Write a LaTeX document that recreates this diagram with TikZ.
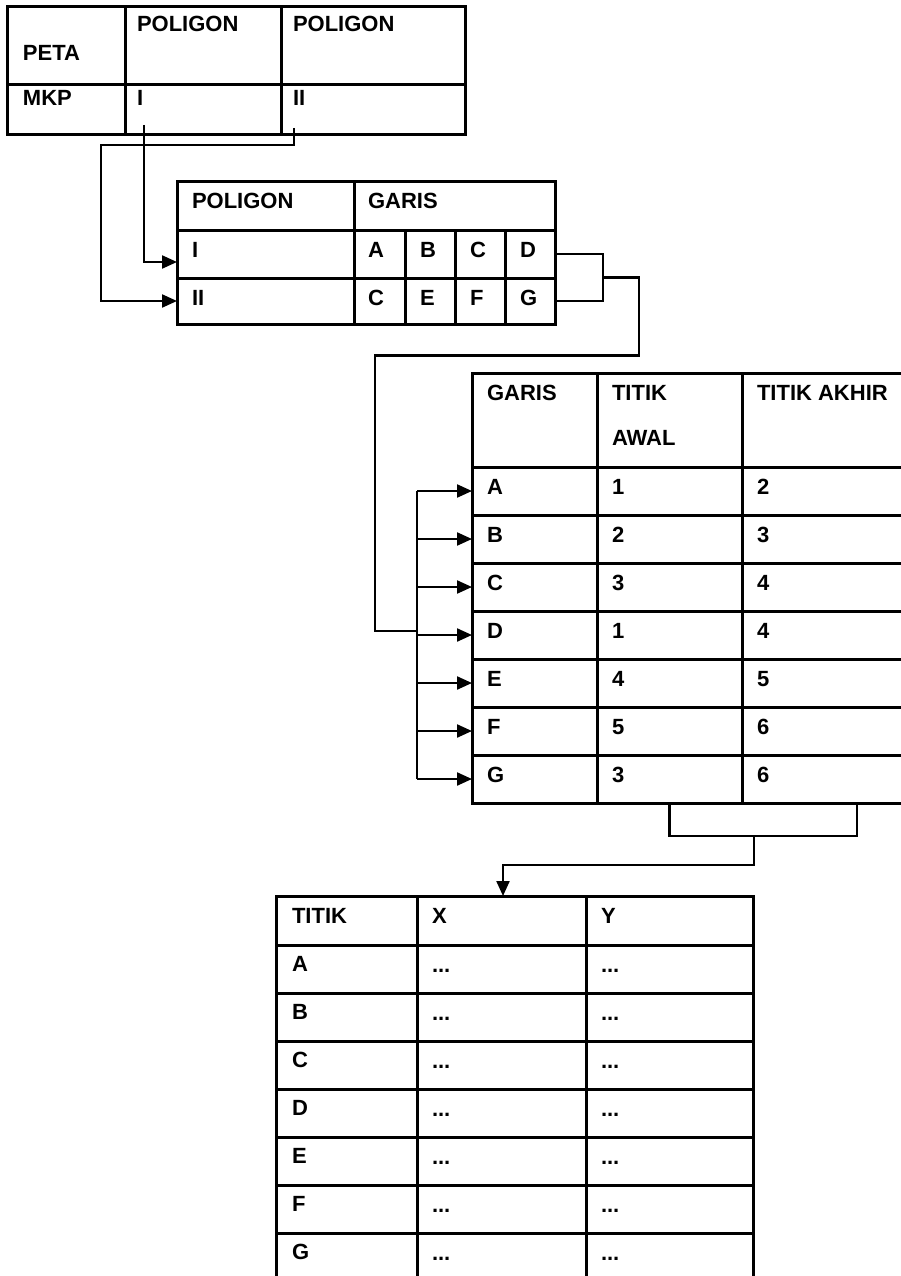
\documentclass[tikz,border=0pt]{standalone}
\usepackage{fontspec}
\setmainfont{Liberation Sans}
\usetikzlibrary{calc,arrows.meta}
\tikzset{
  cellbox/.style={draw, line width=3pt, rectangle, inner sep=0pt, outer sep=0pt, anchor=north west},
  celltext/.style={inner sep=0pt, outer sep=0pt, anchor=base west, font=\fontsize{22}{26}\selectfont\bfseries},
  conn/.style={line width=2.2pt},
  arr/.style={conn, -{Triangle[length=15pt,width=13pt]}},
}
% name, x, y, w, h, dx, dy, text
\newcommand\mkcell[8]{%
  \node[cellbox, minimum width=#4pt, minimum height=#5pt] (#1) at (#2,#3) {};
  \node[celltext] (#1-t) at ($(#1.north west)+(#6,#7)$) {#8};
}
\begin{document}
\begin{tikzpicture}[x=1pt,y=-1pt]
\useasboundingbox (0,0) rectangle (901,1276);
\clip (0,0) rectangle (901,1276);
\fill[white] (0,0) rectangle (901,1276);

% ---------- Table 1 ----------
\mkcell{t1peta}{7}{7}{118}{78}{16}{54}{PETA}
\mkcell{t1pa}{125}{7}{156}{78}{12}{25}{POLIGON}
\mkcell{t1pb}{281}{7}{184}{78}{12}{25}{POLIGON}
\mkcell{t1mkp}{7}{85}{118}{50}{16}{21}{MKP}
\mkcell{t1i}{125}{85}{156}{50}{12}{21}{I}
\mkcell{t1ii}{281}{85}{184}{50}{12}{21}{II}

% ---------- Table 2 ----------
\mkcell{t2hp}{177}{182}{177}{48}{15}{26}{POLIGON}
\mkcell{t2hg}{354}{182}{201}{48}{14}{26}{GARIS}
\mkcell{t2i}{177}{230}{177}{48}{15}{27}{I}
\mkcell{t2a}{354}{230}{51}{48}{14}{27}{A}
\mkcell{t2b}{405}{230}{50}{48}{15}{27}{B}
\mkcell{t2c}{455}{230}{50}{48}{15}{27}{C}
\mkcell{t2d}{505}{230}{50}{48}{15}{27}{D}
\mkcell{t2ii}{177}{278}{177}{46}{15}{27}{II}
\mkcell{t2cc}{354}{278}{51}{46}{14}{27}{C}
\mkcell{t2e}{405}{278}{50}{46}{15}{27}{E}
\mkcell{t2f}{455}{278}{50}{46}{15}{27}{F}
\mkcell{t2g}{505}{278}{50}{46}{15}{27}{G}

% ---------- Table 3 ----------
\mkcell{t3h1}{472}{373}{125}{94}{15}{27}{GARIS}
\mkcell{t3h2}{597}{373}{145}{94}{15}{27}{TITIK}
\node[celltext] (t3h2-b) at ($(t3h2.north west)+(15,72)$) {AWAL};
\mkcell{t3h3}{742}{373}{163}{94}{15}{27}{TITIK AKHIR}
\foreach \n/\l/\p/\q [count=\k from 0] in {a/A/1/2, b/B/2/3, c/C/3/4, d/D/1/4, e/E/4/5, f/F/5/6, g/G/3/6}{
  \pgfmathsetmacro\yy{467+48*\k}
  \mkcell{t3\n1}{472}{\yy}{125}{48}{15}{27}{\l}
  \mkcell{t3\n2}{597}{\yy}{145}{48}{15}{27}{\p}
  \mkcell{t3\n3}{742}{\yy}{163}{48}{15}{27}{\q}
}

% ---------- Table 4 ----------
\mkcell{t4ht}{276}{896}{141}{49}{16}{27}{TITIK}
\mkcell{t4hx}{417}{896}{169}{49}{15}{27}{X}
\mkcell{t4hy}{586}{896}{167}{49}{15}{27}{Y}
\foreach \n/\l [count=\k from 0] in {a/A, b/B, c/C, d/D, e/E, f/F, g/G}{
  \pgfmathsetmacro\yy{945+48*\k}
  \mkcell{t4\n1}{276}{\yy}{141}{48}{16}{26}{\l}
  \mkcell{t4\n2}{417}{\yy}{169}{48}{15}{27}{...}
  \mkcell{t4\n3}{586}{\yy}{167}{48}{15}{27}{...}
}

% ---------- Connectors ----------
% Table 1 -> Table 2
\draw[arr] ($(t1i.south west)+(19,-10)$) |- ($(t2i.south west)+(0,-16)$);
\draw[arr] ($(t1ii.south west)+(13,-7)$) -- ++(0,17) -| ($(t2ii.west)+(-76,0)$) -- (t2ii.west);

% Table 2 -> Table 3
\draw[conn] (t2d.east) -- ++(48,0) |- (t2g.east);
\coordinate (m1) at ($(t2d.east)!0.5!(t2g.east)+(48,0)$);
\coordinate (bus) at ($(t3d1.west)+(-55,-4)$);
\draw[conn] (m1) -- ++(36,0) -- ++(0,78) -| ($(bus)+(-42,0)$) -- (bus);
\draw[conn] (t3a1.west -| bus) -- (t3g1.west -| bus);
\foreach \n in {a,b,c,d,e,f,g}{
  \draw[arr] (t3\n1.west -| bus) -- (t3\n1.west);
}

% Table 3 -> Table 4
\draw[conn] (t3g2.south) -- ++(0,33) -| ($(t3g3.south west)+(115,0)$);
\draw[arr] ($(t3g3.south west)+(12,33)$) -- ++(0,29) -| ($(t4hx.north west)+(86,0)$);
\end{tikzpicture}
\end{document}
